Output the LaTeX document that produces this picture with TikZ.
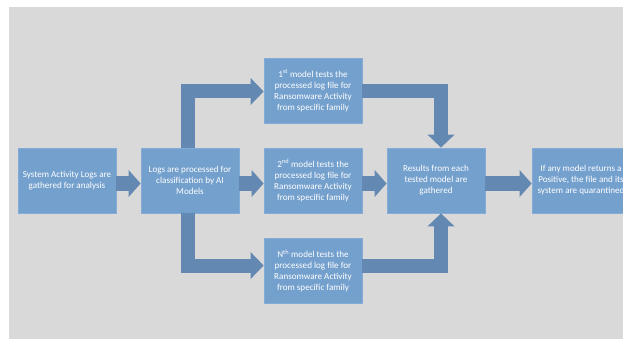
\documentclass[tikz,border=0pt]{standalone}
\usepackage{fontspec}
\setmainfont{Carlito}
\usepackage{xcolor}
\usetikzlibrary{arrows.meta}

\definecolor{bggray}{RGB}{217,217,217}
\definecolor{boxblue}{RGB}{116,160,205}
\definecolor{boxedge}{RGB}{132,172,214}
\definecolor{arrowblue}{RGB}{99,136,178}

\begin{document}
\begin{tikzpicture}[x=1pt, y=-1pt,
    stagebox/.style={draw=boxedge, line width=0.8pt, fill=boxblue, text=white,
      minimum width=98pt, minimum height=65pt, align=center, inner sep=2pt,
      font=\fontsize{9.1}{11}\selectfont},
    flow/.style={arrowblue, line width=15pt, -{Triangle[length=12pt, width=27pt, line width=0pt]}},
    branch/.style={arrowblue, line width=14pt, -{Triangle[length=13pt, width=27pt, line width=0pt]}}]
      \useasboundingbox (0,0) rectangle (623,339);
      \fill[bggray] (9,7) rectangle (623,339);

      \node[stagebox] (gather) at (67, 180.5) {System Activity Logs are\\gathered for analysis};
      \node[stagebox] (process) at (190, 180.5) {Logs are processed for\\classification by AI\\Models};
      \node[stagebox] (first) at (313, 90.5) {1\textsuperscript{st} model tests the\\processed log file for\\Ransomware Activity\\from specific family};
      \node[stagebox] (second) at (313, 180.5) {2\textsuperscript{nd} model tests the\\processed log file for\\Ransomware Activity\\from specific family};
      \node[stagebox] (nth) at (313, 271) {N\textsuperscript{th} model tests the\\processed log file for\\Ransomware Activity\\from specific family};
      \node[stagebox] (results) at (436, 180.5) {Results from each\\tested model are\\gathered};
      \node[stagebox] (quarantine) at (581, 180.5) {If any model returns a\\Positive, the file and its\\system are quarantined};

      \draw[flow] ([yshift=-3pt]gather.east) -- ([yshift=-3pt]process.west);
      \draw[flow] ([yshift=-3pt]process.east) -- ([yshift=-3pt]second.west);
      \draw[flow] ([yshift=-3pt]second.east) -- ([yshift=-3pt]results.west);
      \draw[flow] ([yshift=-3pt]results.east) -- ([yshift=-3pt]quarantine.west);

      \draw[branch] ([xshift=-2pt]process.north) |- ([yshift=-1pt]first.west);
      \draw[branch] ([xshift=-2pt]process.south) |- ([yshift=5.5pt]nth.west);
      \draw[branch] ([yshift=-1pt]first.east) -| ([xshift=5pt]results.north);
      \draw[branch] ([yshift=5.5pt]nth.east) -| ([xshift=5pt]results.south);
\end{tikzpicture}
\end{document}
